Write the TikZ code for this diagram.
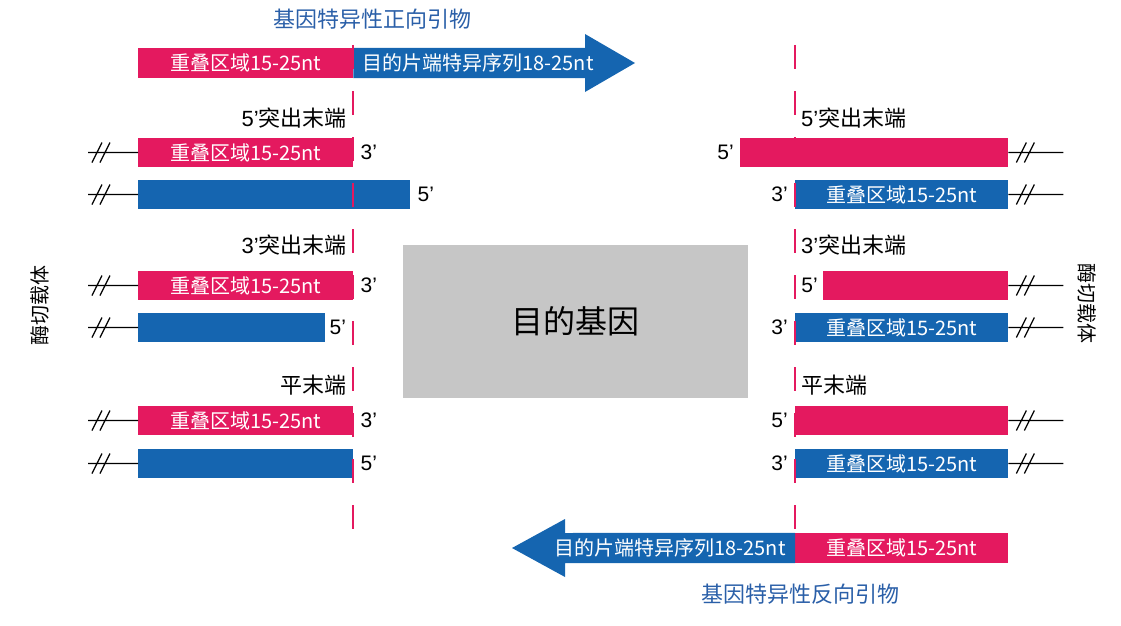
\documentclass[tikz,border=0pt]{standalone}
\usepackage{fontspec}
\setmainfont{Noto Sans CJK SC}
\newfontfamily\latinfont{Liberation Sans}
\usepackage{tikz}
\usetikzlibrary{positioning}
\definecolor{ovpink}{HTML}{E4195F}
\definecolor{ovblue}{HTML}{1565B0}
\definecolor{ovtitle}{HTML}{2A5FA8}
\definecolor{ovgray}{HTML}{C6C6C6}

\tikzset{
  seg/.style={anchor=west,inner sep=0pt,minimum height=29pt,text=white,font=\fontsize{20}{22}\selectfont},
  pinkseg/.style={seg,fill=ovpink},
  blueseg/.style={seg,fill=ovblue},
  endlbl/.style={inner sep=0pt,font=\latinfont\fontsize{21}{23}\selectfont},
  headlbl/.style={inner sep=0pt,font=\fontsize{22}{24}\selectfont},
  primttl/.style={inner sep=0pt,text=ovtitle,font=\fontsize{22}{24}\selectfont},
  sidelbl/.style={inner sep=0pt,font=\fontsize{20}{22}\selectfont},
  brkline/.style={black,line width=1.2pt},
  cutline/.style={ovpink,line width=1.3pt,dash pattern=on 24pt off 22pt},
}

\begin{document}
\begin{tikzpicture}[x=1pt,y=-1pt]
  \useasboundingbox (0,0) rectangle (1121,626);

  % forward primer
  \node[primttl] (fwdttl) at (372,19) {基因特异性正向引物};
  \node[pinkseg,minimum height=30pt,minimum width=215pt] (fwdov) at (138,63) {重叠区域15-25nt};
  \fill[ovblue] (fwdov.north east) -- (585,48) -- (585,34) -- (635,63) -- (585,92) -- (585,78) -- (fwdov.south east) -- cycle;
  \node[seg,anchor=center] (fwdspec) at (478,63) {目的片端特异序列18-25nt};

  % left: vector ends
  \node[headlbl,anchor=east] (l5head) at (347,118) {{\latinfont 5’}突出末端};
  \node[pinkseg,minimum width=215pt] (l5p) at (138,152.5) {重叠区域15-25nt};
  \node[blueseg,minimum width=272pt] (l5b) at (138,194.5) {};
  \node[endlbl,right=7pt of l5p] (l5p3) {3’};
  \node[endlbl,right=7pt of l5b] (l5b5) {5’};

  \node[headlbl,anchor=east] (l3head) at (347,245) {{\latinfont 3’}突出末端};
  \node[pinkseg,minimum width=215pt] (l3p) at (138,285.5) {重叠区域15-25nt};
  \node[blueseg,minimum width=187pt] (l3b) at (138,327.5) {};
  \node[endlbl,right=7pt of l3p] (l3p3) {3’};
  \node[endlbl,right=4pt of l3b] (l3b5) {5’};

  \node[headlbl,anchor=east] (lbhead) at (347,385) {平末端};
  \node[pinkseg,minimum width=215pt] (lbp) at (138,420.5) {重叠区域15-25nt};
  \node[blueseg,minimum width=215pt] (lbb) at (138,463.5) {};
  \node[endlbl,right=7pt of lbp] (lbp3) {3’};
  \node[endlbl,right=7pt of lbb] (lbb5) {5’};

  \draw[brkline] (l5p.west) -- ++(-50,0) ++(4,10) -- ++(10,-20) ++(-2,20) -- ++(10,-20);
  \draw[brkline] (l5b.west) -- ++(-50,0) ++(4,10) -- ++(10,-20) ++(-2,20) -- ++(10,-20);
  \draw[brkline] (l3p.west) -- ++(-50,0) ++(4,10) -- ++(10,-20) ++(-2,20) -- ++(10,-20);
  \draw[brkline] (l3b.west) -- ++(-50,0) ++(4,10) -- ++(10,-20) ++(-2,20) -- ++(10,-20);
  \draw[brkline] (lbp.west) -- ++(-50,0) ++(4,10) -- ++(10,-20) ++(-2,20) -- ++(10,-20);
  \draw[brkline] (lbb.west) -- ++(-50,0) ++(4,10) -- ++(10,-20) ++(-2,20) -- ++(10,-20);
  \node[sidelbl,rotate=90] (lvec) at (40,305) {酶切载体};

  % target gene
  \node[fill=ovgray,minimum width=345pt,minimum height=153pt,inner sep=0pt,font=\fontsize{32}{34}\selectfont] (gene) at (575.5,321.5) {目的基因};

  % right: vector ends
  \node[headlbl,anchor=west] (r5head) at (801,118) {{\latinfont 5’}突出末端};
  \node[pinkseg,minimum width=268pt] (r5p) at (740,152.5) {};
  \node[blueseg,minimum width=213pt] (r5b) at (795,194.5) {重叠区域15-25nt};
  \node[endlbl,left=6pt of r5p] (r5p5) {5’};
  \node[endlbl,left=7pt of r5b] (r5b3) {3’};

  \node[headlbl,anchor=west] (r3head) at (801,245) {{\latinfont 3’}突出末端};
  \node[pinkseg,minimum width=185pt] (r3p) at (823,285.5) {};
  \node[blueseg,minimum width=213pt] (r3b) at (795,327.5) {重叠区域15-25nt};
  \node[endlbl,left=5pt of r3p] (r3p5) {5’};
  \node[endlbl,left=7pt of r3b] (r3b3) {3’};

  \node[headlbl,anchor=west] (rbhead) at (801,385) {平末端};
  \node[pinkseg,minimum width=213pt] (rbp) at (795,420.5) {};
  \node[blueseg,minimum width=213pt] (rbb) at (795,463.5) {重叠区域15-25nt};
  \node[endlbl,left=7pt of rbp] (rbp5) {5’};
  \node[endlbl,left=7pt of rbb] (rbb3) {3’};

  \draw[brkline] (r5p.east) -- ++(55,0) ++(-47,10) -- ++(10,-20) ++(-2,20) -- ++(10,-20);
  \draw[brkline] (r5b.east) -- ++(55,0) ++(-47,10) -- ++(10,-20) ++(-2,20) -- ++(10,-20);
  \draw[brkline] (r3p.east) -- ++(55,0) ++(-47,10) -- ++(10,-20) ++(-2,20) -- ++(10,-20);
  \draw[brkline] (r3b.east) -- ++(55,0) ++(-47,10) -- ++(10,-20) ++(-2,20) -- ++(10,-20);
  \draw[brkline] (rbp.east) -- ++(55,0) ++(-47,10) -- ++(10,-20) ++(-2,20) -- ++(10,-20);
  \draw[brkline] (rbb.east) -- ++(55,0) ++(-47,10) -- ++(10,-20) ++(-2,20) -- ++(10,-20);
  \node[sidelbl,rotate=-90] (rvec) at (1087,303) {酶切载体};

  % cut positions
  \draw[cutline] (353,45) -- (353,545);
  \draw[cutline] (795,45) -- (795,540);

  % reverse primer
  \node[pinkseg,minimum height=30pt,minimum width=213pt] (revov) at (795,548) {重叠区域15-25nt};
  \fill[ovblue] (revov.north west) -- (565,533) -- (565,519) -- (512,548) -- (565,577) -- (565,563) -- (revov.south west) -- cycle;
  \node[seg,anchor=center] (revspec) at (670,548) {目的片端特异序列18-25nt};
  \node[primttl] (revttl) at (800,594) {基因特异性反向引物};
\end{tikzpicture}
\end{document}
